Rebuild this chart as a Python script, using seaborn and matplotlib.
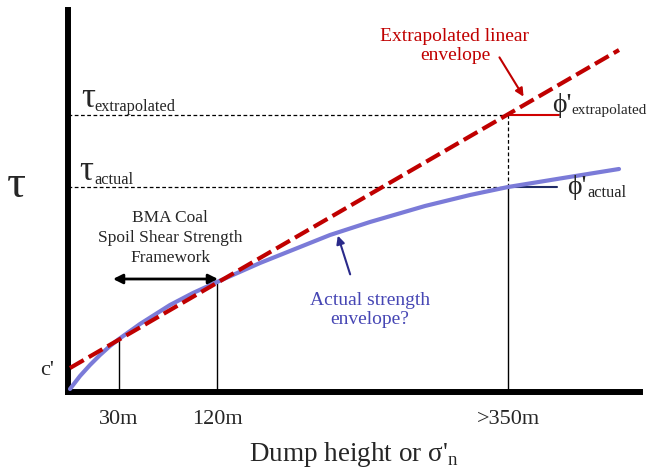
import numpy as np
import pandas as pd
import seaborn as sns
import matplotlib.pyplot as plt

# 곡선 데이터 (축 단위 = 그림 픽셀 기준)
stress = [2, 12, 22, 32, 42, 51, 72, 102, 125, 149, 192, 232, 262, 302, 357, 402, 440, 492, 551]
actual_strength = [3, 16, 27, 37, 46, 53, 68, 87, 99, 110, 129, 145, 157, 170, 186, 197, 205, 213.5, 223]
linear_x = [2, 551]
linear_y = [24, 342]

cohesion = 24
tau_actual = 205
tau_extrap = 277
mark_x = [51, 149, 440]
mark_top = [53, 110, 205]
height_labels = ['30m', '120m', '>350m']

sns.set_style('white')
serif = ['Liberation Serif', 'DejaVu Serif']
plt.rcParams['font.family'] = serif
plt.rcParams['mathtext.fontset'] = 'custom'
plt.rcParams['mathtext.rm'] = 'Liberation Serif'

fig = plt.figure(figsize=(6.48, 4.73), dpi=100)
ax = fig.add_axes([68/648, 81/473, 572/648, 382/473])

curve = pd.DataFrame({'x': stress, 'y': actual_strength})
line = pd.DataFrame({'x': linear_x, 'y': linear_y})
sns.lineplot(data=curve, x='x', y='y', ax=ax, color='#7b7bd8', lw=3, sort=False, zorder=3)
sns.lineplot(data=line, x='x', y='y', ax=ax, color='#c00000', lw=3, zorder=4,
             dashes=False, linestyle=(0, (3.8, 1.4)))

# 보조선
ax.plot([0, mark_x[2]], [tau_extrap, tau_extrap], 'k', lw=0.9, ls=(0, (3, 2)))
ax.plot([0, mark_x[2]], [tau_actual, tau_actual], 'k', lw=0.9, ls=(0, (3, 2)))
ax.plot([mark_x[2], mark_x[2]], [tau_actual, tau_extrap], 'k', lw=0.9, ls=(0, (3, 2)))
for xm, ym in zip(mark_x, mark_top):
    ax.plot([xm, xm], [0, ym], 'k', lw=1)
ax.plot([mark_x[2], mark_x[2] + 51], [tau_extrap, tau_extrap], color='#d00000', lw=1.5)
ax.plot([mark_x[2], mark_x[2] + 49], [tau_actual, tau_actual], color='#1f2b66', lw=1.5)

ax.set_xlim(0, 572)
ax.set_ylim(0, 382)
sns.despine(ax=ax)
for s in ['left', 'bottom']:
    ax.spines[s].set_linewidth(4.3)
    ax.spines[s].set_color('black')

ax.set_xticks(mark_x, height_labels)
ax.set_yticks([cohesion], ["c'"])
ax.tick_params(axis='x', length=0, pad=13, labelsize=16)
ax.tick_params(axis='y', length=0, pad=10, labelsize=16)
ax.set_xlabel("Dump height or σ'$_{\\mathrm{n}}$", fontsize=19.5, labelpad=8)
ax.set_ylabel('')

# 텍스트
ax.text(-52, 206, 'τ', fontsize=34, ha='center', va='center')
ax.text(13, 285, 'τ', fontsize=25, ha='left', va='baseline')
ax.text(26, 281, 'extrapolated', fontsize=11.7, ha='left', va='baseline')
ax.text(11, 212, 'τ', fontsize=25, ha='left', va='baseline')
ax.text(26, 208, 'actual', fontsize=11.7, ha='left', va='baseline')
ax.text(484, 280, "ϕ'", fontsize=20, ha='left', va='baseline')
ax.text(503, 278, 'extrapolated', fontsize=11, ha='left', va='baseline')
ax.text(499, 198, "ϕ'", fontsize=20, ha='left', va='baseline')
ax.text(519, 195, 'actual', fontsize=11.7, ha='left', va='baseline')

ax.text(387, 346, 'Extrapolated linear\nenvelope', color='#c00000', fontsize=14,
        ha='center', va='center', linespacing=1.2)
ax.text(302, 82, 'Actual strength\nenvelope?', color='#4646b4', fontsize=14,
        ha='center', va='center', linespacing=1.2)
ax.text(102, 154, 'BMA Coal\nSpoil Shear Strength\nFramework', fontsize=12.5,
        ha='center', va='center', linespacing=1.3)

ax.annotate('', xy=(457, 293), xytext=(430, 337),
            arrowprops=dict(arrowstyle='-|>', color='#c00000', lw=1.5, mutation_scale=12))
ax.annotate('', xy=(269, 159), xytext=(283, 115),
            arrowprops=dict(arrowstyle='-|>', color='#2a2a8a', lw=1.5, mutation_scale=12))
ax.annotate('', xy=(45, 113), xytext=(150, 113),
            arrowprops=dict(arrowstyle='<|-|>', color='black', lw=2, mutation_scale=14,
                            shrinkA=0, shrinkB=0))

fig.savefig('out.png', dpi=100)
